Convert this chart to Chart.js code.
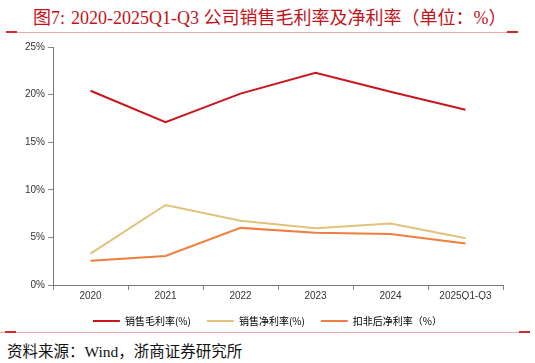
<!DOCTYPE html>
<html>
<head>
<meta charset="utf-8">
<script src="https://cdn.jsdelivr.net/npm/chart.js@4.4.0/dist/chart.umd.min.js"></script>
<style>
    body { margin: 0; width: 535px; height: 363px; background: #fff; position: relative; overflow: hidden; }
    .title { position: absolute; left: 33px; top: 3px; font-family: "Liberation Serif", "Noto Sans CJK SC", serif; font-size: 18px; color: #C0131A; white-space: nowrap; }
    .title .gap { display: inline-block; width: 6px; }
    .rule { position: absolute; left: 16px; right: 18px; height: 1px; background: #EBA9A9; }
    .mark { position: absolute; height: 2px; width: 11px; background: #D7262C; }
    .source { position: absolute; left: 7px; top: 339px; font-family: "Liberation Serif", "Noto Sans CJK SC", serif; font-size: 15.5px; color: #111; white-space: nowrap; }
    .chart-box { position: absolute; left: 0; top: 38px; width: 535px; height: 298px; }
</style>
</head>
<body>
<div class="title">图7:<span class="gap"></span>2020-2025Q1-Q3 公司销售毛利率及净利率（单位：%）</div>
<div class="rule" style="top:32px"></div>
<div class="mark" style="left:6px; top:31px"></div>
<div class="mark" style="left:507px; top:31px"></div>
<div class="rule" style="top:332px; left:0; right:6px"></div>
<div class="mark" style="left:5px; top:331px"></div>
<div class="mark" style="left:519px; top:331px"></div>
<div class="chart-box"><canvas id="chart"></canvas></div>
<div class="source">资料来源：Wind，浙商证券研究所</div>
<script>
const categories = ['2020', '2021', '2022', '2023', '2024', '2025Q1-Q3'];
const grossMargin = [20.4, 17.1, 20.1, 22.3, 20.3, 18.4];
const netMargin = [3.3, 8.4, 6.75, 5.95, 6.45, 4.9];
const deductedNetMargin = [2.55, 3.05, 6.0, 5.5, 5.35, 4.35];
const yTicks = [0, 5, 10, 15, 20, 25];

const tickFont = { family: 'Liberation Sans, Arial, sans-serif', size: 10 };

function line(label, data, color) {
    return {
        label: label,
        data: data,
        borderColor: color,
        backgroundColor: color,
        borderWidth: 2,
        pointRadius: 0,
        tension: 0,
        fill: false
    };
}

// centre the legend on the whole page instead of the padded box
const legendShift = {
    id: 'legendShift',
    afterLayout(chart) {
        if (chart.legend) {
            chart.legend.left += 16;
            chart.legend.right += 16;
        }
    }
};

document.addEventListener('DOMContentLoaded', () => {
    const ctx = document.getElementById('chart').getContext('2d');
    new Chart(ctx, {
        type: 'line',
        data: {
            labels: categories,
            datasets: [
                line('销售毛利率(%)', grossMargin, '#C8161D'),
                line('销售净利率(%)', netMargin, '#E2C27A'),
                line('扣非后净利率（%）', deductedNetMargin, '#EF7E3F')
            ]
        },
        plugins: [legendShift],
        options: {
            responsive: true,
            maintainAspectRatio: false,
            animation: false,
            layout: { padding: { left: 0, right: 32, top: 9, bottom: 0 } },
            plugins: {
                tooltip: { enabled: false },
                legend: {
                    position: 'bottom',
                    labels: {
                        font: { family: 'Noto Sans CJK SC, sans-serif', size: 10 },
                        color: '#333',
                        boxWidth: 27,
                        boxHeight: 2,
                        padding: 16,
                        generateLabels: chart => chart.data.datasets.map((ds, i) => ({
                            text: ds.label,
                            fillStyle: ds.borderColor,
                            strokeStyle: ds.borderColor,
                            lineWidth: 0,
                            datasetIndex: i
                        }))
                    }
                }
            },
            scales: {
                x: {
                    offset: true,
                    grid: { display: true, drawOnChartArea: false, offset: true, tickLength: 5, color: '#888' },
                    border: { color: '#777' },
                    ticks: { font: tickFont, color: '#333', padding: 0 },
                    afterFit: s => { s.height = 15; }
                },
                y: {
                    min: 0,
                    max: 25,
                    afterBuildTicks: s => { s.ticks = yTicks.map(v => ({ value: v })); },
                    grid: { display: true, drawOnChartArea: false, tickLength: 5, color: '#888' },
                    border: { color: '#777' },
                    ticks: { font: tickFont, color: '#333', padding: 3, callback: v => v + '%' },
                    afterFit: s => { s.width = 53; }
                }
            }
        }
    });
});
</script>
</body>
</html>
